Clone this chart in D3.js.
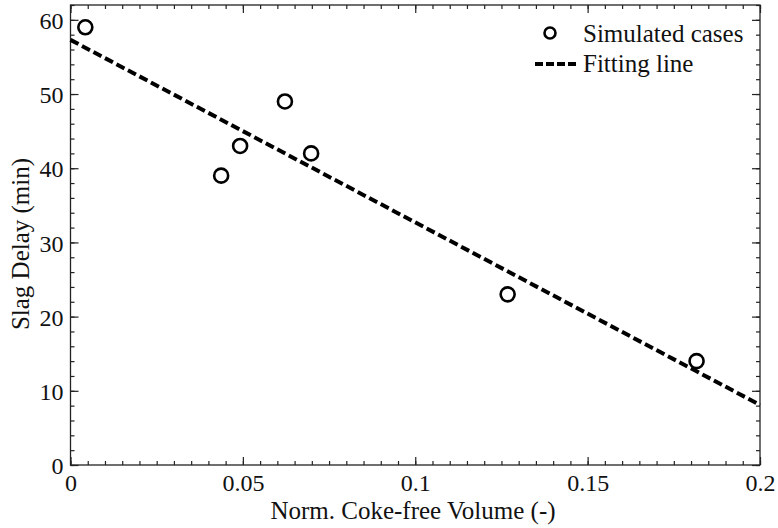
<!DOCTYPE html>
<html><head><meta charset="utf-8">
<script src="https://cdn.jsdelivr.net/npm/d3@7"></script>
<style>body{margin:0;background:#fff;} svg text{font-family:"Liberation Serif","Times New Roman","DejaVu Serif",serif !important;}</style>
</head><body><svg id="c" width="778" height="528" font-family="Liberation Serif, serif"></svg>
<script>
const caseX = [0.0043, 0.0437, 0.0492, 0.0622, 0.0698, 0.1268, 0.1816];
const caseY = [59, 39, 43, 49, 42, 23, 14];
const fitX = [0, 0.2];
const fitY = [57.3, 8.1];
const xTicks = [0, 0.05, 0.1, 0.15, 0.2];
const xTickLabels = ["0", "0.05", "0.1", "0.15", "0.2"];
const yTicks = [0, 10, 20, 30, 40, 50, 60];
const legendLabels = ["Simulated cases", "Fitting line"];

const svg = d3.select("#c");
const L = 70.5, R = 760, T = 5, B = 465;
const x = d3.scaleLinear().domain([0, 0.2]).range([L, R]);
const y = d3.scaleLinear().domain([0, 62]).range([B, T]);
const axisColor = "#222";
const FF = "Liberation Serif, Times New Roman, serif";

svg.append("rect").attr("x", L).attr("y", T).attr("width", R - L).attr("height", B - T)
  .attr("fill", "none").attr("stroke", axisColor).attr("stroke-width", 1.3);

const xMinor = d3.range(0, 0.2001, 0.005);
const yMinor = d3.range(0, 62.01, 2);
const gx = svg.append("g").attr("transform", `translate(0,${B})`)
  .call(d3.axisBottom(x).tickValues(xMinor).tickSize(-4).tickFormat(""));
const gx2 = svg.append("g").attr("transform", `translate(0,${B})`)
  .call(d3.axisBottom(x).tickValues(xTicks).tickSize(-8).tickPadding(9).tickFormat((d,i)=>xTickLabels[i]));
const gxt = svg.append("g").attr("transform", `translate(0,${T})`)
  .call(d3.axisTop(x).tickValues(xMinor).tickSize(-4).tickFormat(""));
const gxt2 = svg.append("g").attr("transform", `translate(0,${T})`)
  .call(d3.axisTop(x).tickValues(xTicks).tickSize(-8).tickFormat(""));
const gy = svg.append("g").attr("transform", `translate(${L},0)`)
  .call(d3.axisLeft(y).tickValues(yMinor).tickSize(-4).tickFormat(""));
const gy2 = svg.append("g").attr("transform", `translate(${L},0)`)
  .call(d3.axisLeft(y).tickValues(yTicks).tickSize(-8).tickPadding(7).tickFormat(d3.format("d")));
const gyr = svg.append("g").attr("transform", `translate(${R},0)`)
  .call(d3.axisRight(y).tickValues(yMinor).tickSize(-4).tickFormat(""));
const gyr2 = svg.append("g").attr("transform", `translate(${R},0)`)
  .call(d3.axisRight(y).tickValues(yTicks).tickSize(-8).tickFormat(""));
[gx,gx2,gxt,gxt2,gy,gy2,gyr,gyr2].forEach(g=>{
  g.attr("font-family", FF).attr("font-size", 24);
  g.select(".domain").remove();
  g.selectAll(".tick line").attr("stroke", axisColor).attr("stroke-width", 1.2);
  g.selectAll("text").attr("fill","#111");
});
gx2.selectAll("text").attr("dy","0.71em");
gy2.selectAll("text").attr("dy","0.36em");

const line = d3.line().x(d=>x(d[0])).y(d=>y(d[1]));
svg.append("path").datum(fitX.map((v,i)=>[v,fitY[i]]))
  .attr("d", line).attr("fill","none").attr("stroke","#000")
  .attr("stroke-width",4).attr("stroke-dasharray","9,4");

svg.selectAll("circle.pt").data(caseX.map((v,i)=>[v,caseY[i]])).enter()
  .append("circle").attr("class","pt").attr("cx",d=>x(d[0])).attr("cy",d=>y(d[1]))
  .attr("r",7).attr("fill","none").attr("stroke","#000").attr("stroke-width",2.6);

svg.append("text").attr("x", 413).attr("y", 519).attr("text-anchor","middle")
  .attr("font-family", FF).attr("font-size",25).attr("fill","#111").text("Norm. Coke-free Volume (-)");
svg.append("text").attr("transform",`translate(29,244) rotate(-90)`)
  .attr("text-anchor","middle").attr("font-family", FF).attr("font-size",25).attr("fill","#111").text("Slag Delay (min)");

const lg = svg.append("g");
lg.append("circle").attr("cx",550).attr("cy",33).attr("r",5.5).attr("fill","none")
  .attr("stroke","#000").attr("stroke-width",2.6);
lg.append("line").attr("x1",535).attr("x2",578).attr("y1",64).attr("y2",64)
  .attr("stroke","#000").attr("stroke-width",4).attr("stroke-dasharray","8,3");
lg.selectAll("text.lt").data(legendLabels).enter().append("text").attr("class","lt")
  .attr("x",583).attr("y",(d,i)=>42+i*30).attr("font-family", FF).attr("font-size",25).attr("fill","#111").text(d=>d);
</script></body></html>
